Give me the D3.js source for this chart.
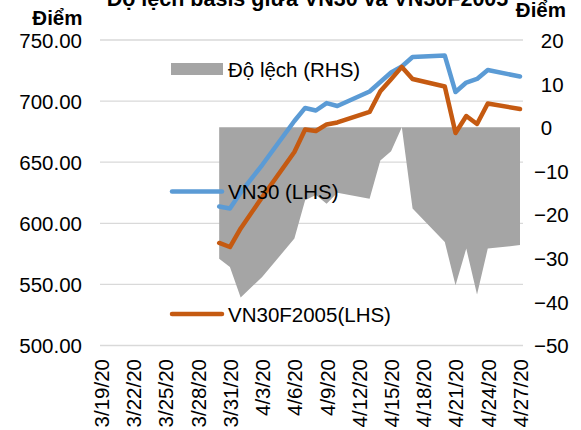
<!DOCTYPE html>
<html>
<head>
<meta charset="utf-8">
<script src="https://cdn.jsdelivr.net/npm/d3@7"></script>
<style>
  body { margin: 0; background: #fff; }
  text { font-family: "Liberation Sans", Arial, sans-serif; fill: #000; }
</style>
</head>
<body>
<div id="container"></div>
<script>
var dates = ["3/30/20", "3/31/20", "4/1/20", "4/3/20", "4/6/20", "4/7/20", "4/8/20", "4/9/20", "4/10/20",
  "4/13/20", "4/14/20", "4/15/20", "4/16/20", "4/17/20", "4/20/20", "4/21/20", "4/22/20", "4/23/20",
  "4/24/20", "4/27/20"];
var vn30 = [613.7, 612.1, 625.2, 647.7, 683.7, 694.4, 692.3, 698.4, 696.0, 707.9,
  715.6, 723.4, 728.3, 736.1, 737.3, 707.4, 715.2, 718.1, 725.5, 720.1];
var vn30f = [583.9, 580.6, 595.8, 621.4, 658.3, 676.8, 675.5, 680.9, 682.5, 691.1,
  708.0, 717.9, 728.0, 718.1, 711.9, 673.9, 687.8, 681.3, 698.0, 693.5];
var dolech = [-30.1, -32.0, -39.0, -34.3, -25.5, -16.7, -15.5, -17.5, -15.0, -16.4,
  -7.6, -5.5, 0, -18.6, -26.3, -36.2, -27.8, -38.3, -27.8, -27.0];
var xTicks = ["3/19/20", "3/22/20", "3/25/20", "3/28/20", "3/31/20", "4/3/20", "4/6/20",
  "4/9/20", "4/12/20", "4/15/20", "4/18/20", "4/21/20", "4/24/20", "4/27/20"];
var leftTicks = [500, 550, 600, 650, 700, 750];
var rightTicks = [-50, -40, -30, -20, -10, 0, 10, 20];

var width = 581, height = 430;
var parse = d3.timeParse("%m/%d/%y");
var fmt = d3.timeFormat("%-m/%-d/%y");

var data = dates.map(function(d, i) {
  return { date: parse(d), vn30: vn30[i], f: vn30f[i], lech: dolech[i] };
});

var svg = d3.select("#container")
  .append("svg")
  .attr("width", width)
  .attr("height", height);

var x = d3.scaleTime()
  .domain([parse(xTicks[0]), parse(xTicks[xTicks.length - 1])])
  .range([101, 520]);
var yL = d3.scaleLinear().domain([500, 750]).range([345.5, 40]);
var yR = d3.scaleLinear().domain([-50, 20]).range([345.5, 40]);

// gridlines
svg.append("g")
  .selectAll("line")
  .data(leftTicks)
  .enter()
  .append("line")
  .attr("x1", 100).attr("x2", 523)
  .attr("y1", function(d) { return yL(d); })
  .attr("y2", function(d) { return yL(d); })
  .attr("stroke", "#d9d9d9")
  .attr("stroke-width", 1.3);

// left axis
var axL = svg.append("g")
  .attr("transform", "translate(82,0)")
  .call(d3.axisLeft(yL).tickValues(leftTicks).tickFormat(d3.format(".2f")).tickSize(0).tickPadding(0));
axL.select(".domain").remove();
axL.selectAll("text").style("font-size", "20.5px").attr("dy", "0.36em");

// right axis
var axR = svg.append("g")
  .attr("transform", "translate(534,0)")
  .call(d3.axisRight(yR).tickValues(rightTicks).tickFormat(d3.format("d")).tickSize(0).tickPadding(0));
axR.select(".domain").remove();
axR.selectAll("text")
  .style("font-size", "20.5px")
  .attr("dy", "0.36em")
  .attr("x", function(d) { return d < 0 ? 0 : 6.8; });

// x axis
var axX = svg.append("g")
  .attr("transform", "translate(0,346)")
  .call(d3.axisBottom(x).tickValues(xTicks.map(parse)).tickFormat(fmt).tickSize(0));
axX.select(".domain").remove();
axX.selectAll("text")
  .style("font-size", "20.5px")
  .attr("text-anchor", "end")
  .attr("transform", "rotate(-90)")
  .attr("x", -13)
  .attr("y", 0)
  .attr("dy", "0.36em");

// area (RHS)
var area = d3.area()
  .x(function(d) { return x(d.date); })
  .y0(yR(0))
  .y1(function(d) { return yR(d.lech); });
svg.append("path")
  .datum(data)
  .attr("d", area)
  .attr("fill", "#a5a5a5");

// lines (LHS)
var lineV = d3.line()
  .x(function(d) { return x(d.date); })
  .y(function(d) { return yL(d.vn30); });
var lineF = d3.line()
  .x(function(d) { return x(d.date); })
  .y(function(d) { return yL(d.f); });

svg.append("path")
  .datum(data)
  .attr("d", lineV)
  .attr("fill", "none")
  .attr("stroke", "#5b9bd5")
  .attr("stroke-width", 4.5)
  .attr("stroke-linejoin", "round")
  .attr("stroke-linecap", "round");

svg.append("path")
  .datum(data)
  .attr("d", lineF)
  .attr("fill", "none")
  .attr("stroke", "#c55a11")
  .attr("stroke-width", 4.5)
  .attr("stroke-linejoin", "round")
  .attr("stroke-linecap", "round");

// legend
var lg = svg.append("g").style("font-size", "20.5px");
lg.append("rect").attr("x", 171).attr("y", 63).attr("width", 52).attr("height", 12).attr("fill", "#a5a5a5");
lg.append("text").attr("x", 228).attr("y", 76.5).text("Độ lệch (RHS)");
lg.append("line").attr("x1", 172).attr("x2", 222).attr("y1", 191.5).attr("y2", 191.5)
  .attr("stroke", "#5b9bd5").attr("stroke-width", 4.5).attr("stroke-linecap", "round");
lg.append("text").attr("x", 228).attr("y", 199).text("VN30 (LHS)");
lg.append("line").attr("x1", 172).attr("x2", 222).attr("y1", 314).attr("y2", 314)
  .attr("stroke", "#c55a11").attr("stroke-width", 4.5).attr("stroke-linecap", "round");
lg.append("text").attr("x", 228).attr("y", 321.5).text("VN30F2005(LHS)");

// titles
svg.append("text")
  .attr("x", 307.5).attr("y", 5.5)
  .attr("text-anchor", "middle")
  .style("font-size", "21.5px").style("font-weight", "bold")
  .text("Độ lệch basis giữa VN30 và VN30F2005");
svg.append("text")
  .attr("x", 82.5).attr("y", 25)
  .attr("text-anchor", "end")
  .style("font-size", "20.5px").style("font-weight", "bold")
  .text("Điểm");
svg.append("text")
  .attr("x", 566).attr("y", 16.5)
  .attr("text-anchor", "end")
  .style("font-size", "20.5px").style("font-weight", "bold")
  .text("Điểm");
</script>
</body>
</html>
